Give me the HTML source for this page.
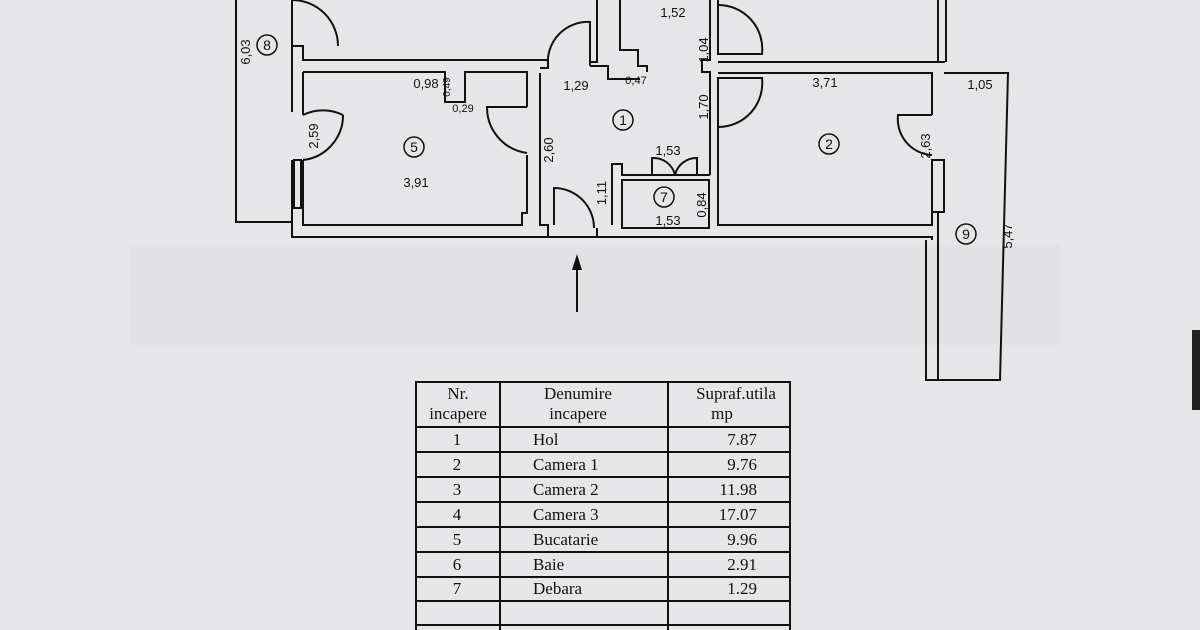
<!DOCTYPE html>
<html><head><meta charset="utf-8"><style>
body{margin:0;width:1200px;height:630px;background:#e6e6e8;overflow:hidden;font-family:"Liberation Sans",sans-serif}
svg{position:absolute;left:0;top:0}
</style></head><body>
<svg width="1200" height="630" viewBox="0 0 1200 630">
<rect x="130" y="245" width="930" height="100" fill="#dedee0" opacity="0.5"/>
<g fill="none" stroke="#111" stroke-width="2">
<!-- balcony 8 -->
<polyline points="236,0 236,222 292,222"/>
<line x1="292" y1="0" x2="292" y2="46"/>
<path d="M292,46 L292,0 A46,46 0 0 1 338,46"/>
<!-- room 5 walls -->
<polyline points="292,46 303,46 303,60 548,60"/>
<polyline points="292,46 292,112"/>
<polyline points="292,160 292,237 548,237"/>
<polyline points="303,72 445,72 445,102 465,102 465,72 527,72 527,107"/>
<polyline points="303,72 303,115"/>
<polyline points="303,160 303,225 522,225 522,213 527,213 527,155"/>
<rect x="294" y="160" width="7" height="48"/>
<path d="M303,115 A46,46 0 0 1 343,115 M303,160 A45,45 0 0 0 343,115"/>
<path d="M527,107 L487,107 A46,46 0 0 0 527,153"/>
<!-- hall left wall -->
<polyline points="540,73 540,225 548,225 548,237"/>
<polyline points="548,60 548,68 540,68"/>
<path d="M548,66 A40,40 0 0 1 590,22 L590,66"/>
<polyline points="590,66 590,62 597,62 597,0"/>
<polyline points="590,66 608,66 608,79 640,79"/>
<polyline points="620,0 620,50 638,50 638,66 647,66 647,72"/>
<polyline points="548,237 597,237"/>
<path d="M554,225 L554,188 A40,40 0 0 1 594,228"/>
<line x1="597" y1="228" x2="597" y2="237"/>
<!-- storage 7 -->
<polyline points="612,225 612,164 622,164 622,175 710,175"/>
<rect x="622" y="180" width="87" height="48"/>
<path d="M652,175 L652,158 A22,22 0 0 1 675,175 M697,175 L697,158 A22,22 0 0 0 675,175"/>
<polyline points="597,237 932,237 932,240"/>
<!-- hall right wall -->
<polyline points="710,0 710,60 702,60 702,72 710,72 710,175"/>
<polyline points="718,0 718,50"/>
<path d="M718,54 L718,5 A44,44 0 0 1 762,54 Z"/>
<path d="M718,78 L762,78 A44,44 0 0 1 718,127 Z"/>
<polyline points="718,127 718,225 932,225 932,160"/>
<polyline points="718,62 945,62"/>
<polyline points="718,73 932,73 932,115"/>
<rect x="932" y="160" width="12" height="52"/>
<path d="M932,115 L898,115 A36,36 0 0 0 932,155"/>
<polyline points="938,0 938,62"/>
<polyline points="946,0 946,62"/>
<!-- balcony 9 -->
<polyline points="944,73 1008,73 1000,380 926,380 926,240"/>
<line x1="938" y1="212" x2="938" y2="380"/>
<!-- entrance arrow -->
<line x1="577" y1="312" x2="577" y2="262"/>
</g>
<polygon points="577,254 572,270 582,270" fill="#111"/>
<g font-family="Liberation Sans,sans-serif" font-size="13" fill="#111" text-anchor="middle">
<text x="673" y="17">1,52</text>
<text x="426" y="88">0,98</text>
<text x="576" y="90">1,29</text>
<text x="636" y="84" font-size="11">0,47</text>
<text x="463" y="112" font-size="11">0,29</text>
<text x="416" y="187">3,91</text>
<text x="825" y="87">3,71</text>
<text x="980" y="89">1,05</text>
<text x="668" y="155">1,53</text>
<text x="668" y="225">1,53</text>
<text transform="translate(250,52) rotate(-90)">6,03</text>
<text transform="translate(318,136) rotate(-90)">2,59</text>
<text transform="translate(553,150) rotate(-90)">2,60</text>
<text transform="translate(606,193) rotate(-90)">1,11</text>
<text transform="translate(708,50) rotate(-90)">1,04</text>
<text transform="translate(708,107) rotate(-90)">1,70</text>
<text transform="translate(706,205) rotate(-90)">0,84</text>
<text transform="translate(930,146) rotate(-90)">2,63</text>
<text transform="translate(1012,236) rotate(-90)">5,47</text>
<text transform="translate(450,87) rotate(-90)" font-size="10">0,49</text>
</g>
<g fill="none" stroke="#111" stroke-width="1.5">
<circle cx="267" cy="45" r="10"/><circle cx="414" cy="147" r="10"/>
<circle cx="623" cy="120" r="10"/><circle cx="829" cy="144" r="10"/>
<circle cx="664" cy="197" r="10"/><circle cx="966" cy="234" r="10"/>
</g>
<g font-family="Liberation Sans,sans-serif" font-size="14" fill="#111" text-anchor="middle">
<text x="267" y="50">8</text><text x="414" y="152">5</text><text x="623" y="125">1</text>
<text x="829" y="149">2</text><text x="664" y="202">7</text><text x="966" y="239">9</text>
</g>
<!-- table -->
<g fill="none" stroke="#111" stroke-width="2">
<rect x="416" y="382" width="374" height="260"/>
<line x1="500" y1="382" x2="500" y2="630"/>
<line x1="668" y1="382" x2="668" y2="630"/>
<line x1="416" y1="427" x2="790" y2="427"/>
<line x1="416" y1="452" x2="790" y2="452"/>
<line x1="416" y1="477" x2="790" y2="477"/>
<line x1="416" y1="502" x2="790" y2="502"/>
<line x1="416" y1="527" x2="790" y2="527"/>
<line x1="416" y1="552" x2="790" y2="552"/>
<line x1="416" y1="577" x2="790" y2="577"/>
<line x1="416" y1="601" x2="790" y2="601"/>
<line x1="416" y1="625" x2="790" y2="625"/>
</g>
<g font-family="Liberation Serif,serif" font-size="17" fill="#111">
<text x="458" y="399" text-anchor="middle">Nr.</text>
<text x="458" y="419" text-anchor="middle">incapere</text>
<text x="578" y="399" text-anchor="middle">Denumire</text>
<text x="578" y="419" text-anchor="middle">incapere</text>
<text x="736" y="399" text-anchor="middle">Supraf.utila</text>
<text x="722" y="419" text-anchor="middle">mp</text>
<text x="457" y="445" text-anchor="middle">1</text><text x="533" y="445">Hol</text><text x="757" y="445" text-anchor="end">7.87</text>
<text x="457" y="470" text-anchor="middle">2</text><text x="533" y="470">Camera 1</text><text x="757" y="470" text-anchor="end">9.76</text>
<text x="457" y="495" text-anchor="middle">3</text><text x="533" y="495">Camera 2</text><text x="757" y="495" text-anchor="end">11.98</text>
<text x="457" y="520" text-anchor="middle">4</text><text x="533" y="520">Camera 3</text><text x="757" y="520" text-anchor="end">17.07</text>
<text x="457" y="545" text-anchor="middle">5</text><text x="533" y="545">Bucatarie</text><text x="757" y="545" text-anchor="end">9.96</text>
<text x="457" y="570" text-anchor="middle">6</text><text x="533" y="570">Baie</text><text x="757" y="570" text-anchor="end">2.91</text>
<text x="457" y="594" text-anchor="middle">7</text><text x="533" y="594">Debara</text><text x="757" y="594" text-anchor="end">1.29</text>
</g>
<rect x="1192" y="330" width="8" height="80" fill="#222"/>
</svg>
</body></html>
